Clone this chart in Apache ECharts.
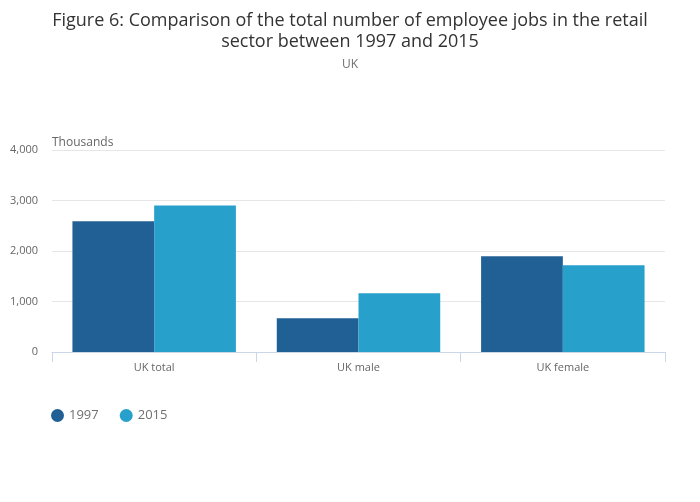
<!DOCTYPE html>
<html><head><meta charset="utf-8">
<script src="https://cdn.jsdelivr.net/npm/echarts@6/dist/echarts.min.js"></script>
<style>html,body{margin:0;padding:0;background:#fff}#c{width:700px;height:502px}</style>
</head><body><div id="c"></div>
<script>
const categories = ["UK total", "UK male", "UK female"];
const series1997 = [2590, 670, 1895];
const series2015 = [2900, 1165, 1720];
const seriesNames = ["1997", "2015"];
const FONT = "Open Sans";
const chart = echarts.init(document.getElementById('c'));
chart.setOption({
  animation: false,
  textStyle: {fontFamily: FONT},
  title: {
    text: "Figure 6: Comparison of the total number of employee jobs in the retail\nsector between 1997 and 2015",
    subtext: "UK",
    left: 'center', top: 5,
    textStyle: {fontFamily: FONT, fontSize: 18, fontWeight: 'normal', color: '#333', lineHeight: 21},
    subtextStyle: {fontFamily: FONT, fontSize: 12, color: '#707070'},
    itemGap: 7
  },
  legend: {
    data: seriesNames, left: 46, top: 404, icon: 'circle', itemWidth: 13, itemHeight: 13, itemGap: 21,
    textStyle: {fontFamily: FONT, fontSize: 13, color: '#707070'}
  },
  grid: {left: 52, right: 35, top: 150, bottom: 150, containLabel: false},
  xAxis: {
    type: 'category', data: categories,
    axisLine: {lineStyle: {color: '#ccd6eb'}},
    axisTick: {show: true, length: 10, lineStyle: {color: '#ccd6eb'}},
    axisLabel: {fontFamily: FONT, fontSize: 11, color: '#666', margin: 10}
  },
  yAxis: {
    type: 'value', min: 0, max: 4000, interval: 1000,
    name: 'Thousands', nameLocation: 'end', nameGap: 1,
    nameTextStyle: {fontFamily: FONT, fontSize: 12, color: '#666', align: 'left', padding: [0,0,0,0]},
    axisLine: {show: false}, axisTick: {show: false},
    splitLine: {lineStyle: {color: '#e6e6e6'}},
    axisLabel: {fontFamily: FONT, fontSize: 11, color: '#666', margin: 14, padding: [3,0,0,0],
      formatter: v => v.toLocaleString('en-US')}
  },
  series: [
    {name: seriesNames[0], type: 'bar', data: series1997, itemStyle: {color: '#206095'}, barGap: '0%', barCategoryGap: '20%'},
    {name: seriesNames[1], type: 'bar', data: series2015, itemStyle: {color: '#27a0cc'}, barGap: '0%', barCategoryGap: '20%'}
  ]
});
</script></body></html>
